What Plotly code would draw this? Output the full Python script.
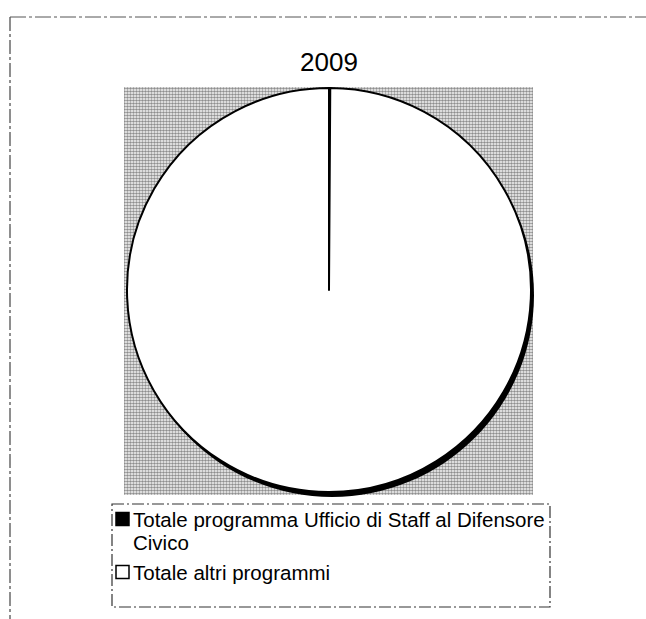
import plotly.graph_objects as go

W, H = 646, 619

# Data
year_title = "2009"
labels = ["Totale programma Ufficio di Staff al Difensore<br>Civico", "Totale altri programmi"]
values = [0.1, 99.9]
colors = ["#000000", "#ffffff"]

FONT = "Liberation Sans, Arial, sans-serif"


def px_x(x):
    return x / W


def px_y(y):
    return 1 - y / H


# pie geometry (pixels)
cx, cy, r = 329, 290, 202
shadow_dx, shadow_dy = 3, 5

fig = go.Figure()

# dithered plot-area background
px0, py0, px1, py1 = 124, 87, 533, 495
fig.add_trace(go.Scatter(
    x=[px0, px1, px1, px0, px0], y=[py0, py0, py1, py1, py0],
    mode="lines", line=dict(width=0), fill="toself",
    fillcolor="white",
    fillpattern=dict(shape=".", fgcolor="#1e1e1e", bgcolor="#ffffff", size=3, solidity=0.6),
    hoverinfo="skip", showlegend=False,
))

# drop shadow under the pie
fig.add_trace(go.Pie(
    values=[1], labels=["shadow"], marker=dict(colors=["#000000"], line=dict(width=0)),
    textinfo="none", hoverinfo="skip", showlegend=False, sort=False,
    domain=dict(x=[px_x(cx - r + shadow_dx), px_x(cx + r + shadow_dx)],
                y=[px_y(cy + r + shadow_dy), px_y(cy - r + shadow_dy)]),
))

# main pie
fig.add_trace(go.Pie(
    labels=[l.replace("<br>", " ") for l in labels], values=values, sort=False,
    direction="clockwise", rotation=0,
    marker=dict(colors=colors, line=dict(color="#000000", width=2)),
    textinfo="none", hoverinfo="label+percent", showlegend=False,
    domain=dict(x=[px_x(cx - r), px_x(cx + r)], y=[px_y(cy + r), px_y(cy - r)]),
))

shapes = [
    # outer frame (left and top edges)
    dict(type="line", xref="x", yref="y", x0=10, y0=17, x1=10, y1=619,
         line=dict(color="#444444", width=1.2, dash="14px,3px,3px,3px")),
    dict(type="line", xref="x", yref="y", x0=10, y0=17, x1=646, y1=17,
         line=dict(color="#555555", width=1, dash="16px,3px,3px,3px")),
    # legend frame
    dict(type="rect", xref="x", yref="y", x0=112, y0=504, x1=550, y1=607,
         line=dict(color="#333333", width=1.2, dash="12px,3px,2px,3px")),
]

annotations = [dict(text=year_title, x=329, y=62, xref="x", yref="y",
                    showarrow=False, font=dict(family=FONT, size=26, color="#000000"))]

# legend entries: swatch + label lines
sw_x0, sw_size, text_x = 116, 13, 131
row_y = [519, 572]
line_step = 23
for label, color, yc in zip(labels, colors, row_y):
    shapes.append(dict(type="rect", xref="x", yref="y",
                       x0=sw_x0, x1=sw_x0 + sw_size,
                       y0=yc - sw_size / 2, y1=yc + sw_size / 2,
                       fillcolor=color, line=dict(color="#000000", width=1.5)))
    for i, line in enumerate(label.split("<br>")):
        annotations.append(dict(text=line, x=text_x, y=yc + i * line_step,
                                xref="x", yref="y", xanchor="left", yanchor="middle",
                                showarrow=False,
                                font=dict(family=FONT, size=20.5, color="#000000")))

fig.update_layout(
    width=W, height=H,
    margin=dict(l=0, r=0, t=0, b=0),
    paper_bgcolor="white", plot_bgcolor="white",
    xaxis=dict(range=[0, W], visible=False, domain=[0, 1], fixedrange=True),
    yaxis=dict(range=[H, 0], visible=False, domain=[0, 1], fixedrange=True),
    shapes=shapes,
    annotations=annotations,
    showlegend=False,
)

fig.write_html("out.html")
